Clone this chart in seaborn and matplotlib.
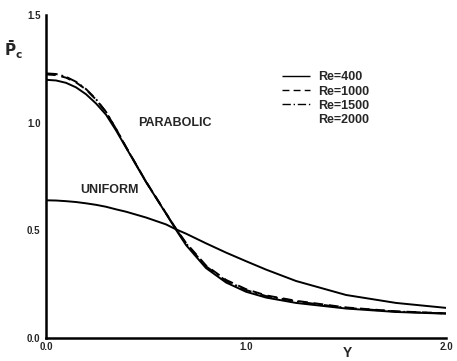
import numpy as np
import pandas as pd
import seaborn as sns
import matplotlib
matplotlib.use("Agg")
import matplotlib.pyplot as plt
from matplotlib.lines import Line2D

Y = [0.0, 0.05, 0.1, 0.15, 0.2, 0.25, 0.3, 0.35, 0.4, 0.5, 0.6, 0.65, 0.7, 0.8, 0.9, 1.0, 1.1, 1.25, 1.5, 1.75, 2.0]
par_400  = [1.200, 1.197, 1.186, 1.165, 1.133, 1.090, 1.038, 0.965, 0.885, 0.725, 0.578, 0.503, 0.432, 0.325, 0.258, 0.215, 0.188, 0.163, 0.137, 0.121, 0.113]
par_1000 = [1.225, 1.222, 1.210, 1.188, 1.155, 1.108, 1.050, 0.972, 0.888, 0.727, 0.580, 0.508, 0.442, 0.337, 0.270, 0.227, 0.198, 0.173, 0.142, 0.124, 0.115]
par_1500 = [1.230, 1.227, 1.214, 1.191, 1.157, 1.110, 1.051, 0.972, 0.887, 0.726, 0.579, 0.506, 0.439, 0.333, 0.266, 0.223, 0.195, 0.170, 0.140, 0.123, 0.114]
uni_400  = [0.640, 0.639, 0.636, 0.632, 0.626, 0.619, 0.610, 0.598, 0.587, 0.560, 0.528, 0.505, 0.485, 0.440, 0.397, 0.357, 0.318, 0.265, 0.200, 0.163, 0.140]
legend_labels = ["Re=400", "Re=1000", "Re=1500", "Re=2000"]

sns.set_style("white")
plt.rcParams['font.family'] = ['Liberation Sans', 'DejaVu Sans']
plt.rcParams['font.weight'] = 'bold'

rows = []
for name, vals in [("par400", par_400), ("par1000", par_1000), ("par1500", par_1500), ("uni400", uni_400)]:
    for x, v in zip(Y, vals):
        rows.append({"Y": x, "P": v, "curve": name})
df = pd.DataFrame(rows)

fig = plt.figure(figsize=(4.57, 3.61), dpi=100)
ax = fig.add_axes([0.1007, 0.0637, 0.8753, 0.894])

styles = {"par400": (0, ()), "par1000": (0, (5, 3)), "par1500": (0, (6, 2, 1, 2)), "uni400": (0, ())}
for name in ["uni400", "par400", "par1000", "par1500"]:
    sub = df[df["curve"] == name]
    sns.lineplot(data=sub, x="Y", y="P", ax=ax, color="black", lw=1.4,
                 linestyle=styles[name], legend=False, estimator=None)

ax.set_xlim(0, 2.0)
ax.set_ylim(0, 1.5)
ax.set_xticks([0.0, 1.0, 2.0])
ax.set_yticks([0.0, 0.5, 1.0, 1.5])
ax.set_xticklabels(["0.0", "1.0", "2.0"], fontsize=7, fontweight='bold')
ax.set_yticklabels(["0.0", "0.5", "1.0", "1.5"], fontsize=7, fontweight='bold')
ax.tick_params(direction='in', length=5, width=1.5, pad=4)
ax.tick_params(axis='x', pad=3)
for s in ["top", "right"]:
    ax.spines[s].set_visible(False)
for s in ["left", "bottom"]:
    ax.spines[s].set_linewidth(1.8)
    ax.spines[s].set_color("black")
ax.set_xlabel("")
ax.set_ylabel("")

fig.text(347/457, 1 - 353/361, "Y", fontsize=10, fontweight='bold', ha='center', va='center')
fig.text(13/457, 1 - 50/361, r"$\bar{\mathsf{P}}_{\mathsf{c}}$", fontsize=11, ha='center', va='center')

ax.text(0.46, 1.0, "PARABOLIC", fontsize=9, fontweight='bold', va='center', ha='left')
ax.text(0.17, 0.69, "UNIFORM", fontsize=9, fontweight='bold', va='center', ha='left')

handles = [Line2D([], [], color='black', lw=1.0, linestyle=(0, ())),
           Line2D([], [], color='black', lw=1.0, linestyle=(0, (5, 3))),
           Line2D([], [], color='black', lw=1.0, linestyle=(0, (6, 2, 1, 2))),
           Line2D([], [], color='none', lw=1.0)]
leg = ax.legend(handles, legend_labels, loc='upper left', bbox_to_anchor=(0.59, 0.826),
                frameon=False, fontsize=9, handlelength=2.2, handletextpad=0.65,
                labelspacing=0.17, borderaxespad=0, borderpad=0)
for t in leg.get_texts():
    t.set_fontweight('bold')

fig.savefig("out.png", dpi=100)
